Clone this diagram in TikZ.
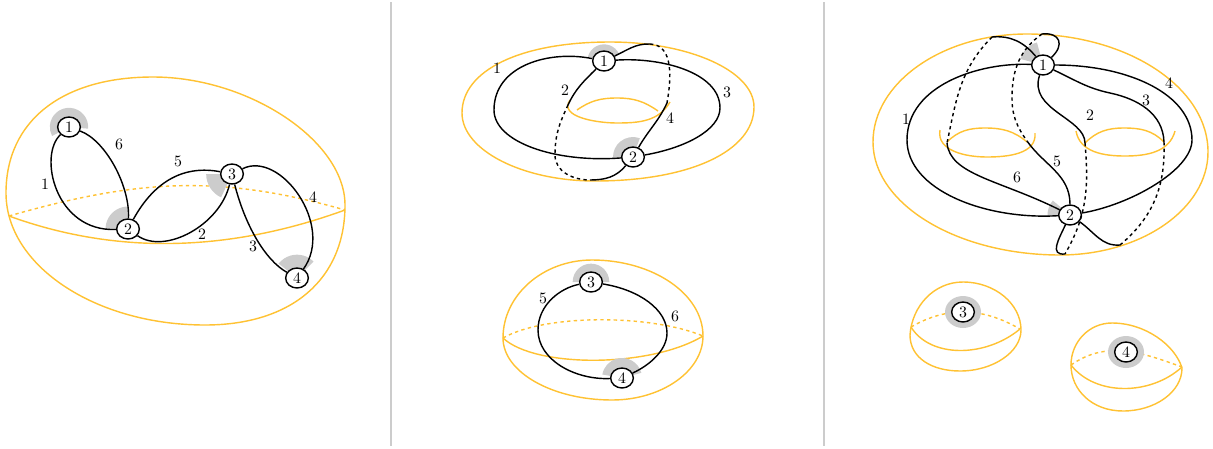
\documentclass[tikz,border=0pt]{standalone}
\usepackage{xcolor}
\usetikzlibrary{shapes.geometric}
\definecolor{surfcol}{HTML}{FFC233}
\definecolor{shadecol}{HTML}{CCCCCC}
\begin{document}
\begin{tikzpicture}[
  x=0.6pt,y=-0.6pt,
  every node/.style={font=\fontsize{9.5}{11}\selectfont},
  vert/.style={draw,line width=0.85pt,fill=white,ellipse,inner sep=0pt,minimum width=13.6pt,minimum height=12pt},
  lab/.style={inner sep=0pt},
  surf/.style={draw=surfcol,line width=0.85pt},
  surfdash/.style={surf,dash pattern=on 2pt off 2pt},
  edge/.style={draw,line width=0.85pt},
  edgedash/.style={edge,dash pattern=on 2pt off 2pt},
  wedge/.style={fill=shadecol},
  sep/.style={draw=shadecol,line width=0.9pt}
]
\useasboundingbox (0,0) rectangle (1213,448);
\coordinate (sepa) at (391,2);
\coordinate (sepb) at (391,446);
\coordinate (sepc) at (824,2);
\coordinate (sepd) at (824,446);
\draw[sep] (sepa) -- (sepb);
\draw[sep] (sepc) -- (sepd);

% surfaces
\draw[surf] (6,193) .. controls (6,121) and (62,77) .. (153,77) .. controls (249,77) and (345,141) .. (345,205)
  .. controls (345,279) and (292,325) .. (205,325) .. controls (96,325) and (6,266) .. cycle;
\coordinate (aL) at (9,216);
\coordinate (aR) at (345,210);
\draw[surf] (aL) to[out=-20,in=200,looseness=0.9] (aR);
\draw[surfdash] (aL) to[out=16,in=164] (aR);

\draw[surf] (462,113) .. controls (462,70) and (521,42) .. (610,42) .. controls (689,42) and (754,71) .. (754,107)
  .. controls (754,151) and (690,181) .. (595,181) .. controls (522,181) and (462,150) .. cycle;
\coordinate (bA) at (570,100);
\coordinate (bB) at (670,102);
\coordinate (bC) at (577,110);
\coordinate (bD) at (658,111);
\draw[surf] (bA) to[out=-125,in=180] (617,123) to[out=0,in=-120] (bB);
\draw[surf] (bC) to[out=35,in=180] (617,98) to[out=0,in=145] (bD);

\draw[surf] (503,338) .. controls (503,295) and (543,260) .. (592,260) .. controls (653,260) and (703,294) .. (703,336)
  .. controls (703,371) and (662,400) .. (612,400) .. controls (552,400) and (503,372) .. cycle;
\coordinate (cL) at (503,338);
\coordinate (cR) at (703,336);
\draw[surf] (cL) .. controls (535,368) and (650,368) .. (cR);
\draw[surfdash] (cL) .. controls (545,314) and (650,314) .. (cR);

\draw[surf] (873,142) .. controls (873,83) and (942,34) .. (1027,34) .. controls (1127,34) and (1208,87) .. (1208,152)
  .. controls (1208,209) and (1141,255) .. (1060,255) .. controls (957,255) and (873,204) .. cycle;
\coordinate (dA) at (940,130);
\coordinate (dB) at (1035,133);
\coordinate (dC) at (947,142);
\coordinate (dD) at (1027,142);
\coordinate (dE) at (1076,131);
\coordinate (dF) at (1175,131);
\coordinate (dG) at (1085,143);
\coordinate (dH) at (1164,142);
\draw[surf] (dA) to[out=-100,in=180] (987,157) to[out=0,in=-85] (dB);
\draw[surf] (dC) to[out=45,in=180] (985,128) to[out=0,in=140] (dD);
\draw[surf] (dE) to[out=-80,in=180] (1125,156) to[out=0,in=-105] (dF);
\draw[surf] (dG) to[out=45,in=180] (1124,128) to[out=0,in=135] (dH);

\draw[surf] (910,335) .. controls (912,306) and (934,282) .. (963,282) .. controls (995,282) and (1021,304) .. (1021,330)
  .. controls (1021,352) and (993,371) .. (960,371) .. controls (932,371) and (910,358) .. cycle;
\coordinate (eL) at (911,327);
\coordinate (eR) at (1020,329);
\draw[surf] (eL) .. controls (930,358) and (985,358) .. (eR);
\draw[surfdash] (eL) to[out=30,in=150] (eR);

\draw[surf] (1071,365) .. controls (1071,342) and (1089,323) .. (1112,323) .. controls (1145,323) and (1175,345) .. (1182,368)
  .. controls (1182,392) and (1155,411) .. (1123,411) .. controls (1092,411) and (1071,390) .. cycle;
\coordinate (fL) at (1071,365);
\coordinate (fR) at (1182,367);
\draw[surf] (fL) .. controls (1095,396) and (1150,396) .. (fR);
\draw[surfdash] (fL) to[out=35,in=160] (fR);

% shaded corners
\foreach \cx/\cy/\a/\b/\r in {69/127/-5/208/11.5,128/229/90/182/13.5,232/174/180/245/15.5,297/278/45/142/14,
  604/61/25/165/10,633/157/70/182/12,591/282/0/180/11,622/378/15/170/12,
  1043/65/105/165/14,1070/215/140/182/13.5}{
  \fill[wedge] (\cx,\cy) -- ++(\a:\r pt) arc (\a:\b:\r pt) -- cycle;
}
\fill[wedge] (963,312) ellipse (18 and 16);
\fill[wedge] (1126,352) ellipse (18 and 16);

% vertices
\node[vert] (la) at (69,127) {1};
\node[vert] (lb) at (128,229) {2};
\node[vert] (lc) at (232,174) {3};
\node[vert] (ld) at (297,278) {4};
\node[vert] (ma) at (604,61) {1};
\node[vert] (mb) at (633,157) {2};
\node[vert] (mc) at (591,282) {3};
\node[vert] (md) at (622,378) {4};
\node[vert] (ra) at (1043,65) {1};
\node[vert] (rb) at (1070,215) {2};
\node[vert] (rc) at (963,312) {3};
\node[vert] (rd) at (1126,352) {4};

% left picture
\draw[edge] (la) .. controls (38,155) and (55,232) .. (lb);
\draw[edge] (la) .. controls (105,140) and (130,185) .. (lb);
\draw[edge] (lb) .. controls (155,180) and (185,165) .. (lc);
\draw[edge] (lb) .. controls (165,255) and (220,225) .. (lc);
\draw[edge] (lc) .. controls (245,225) and (265,260) .. (ld);
\draw[edge] (lc) .. controls (280,150) and (335,225) .. (ld);
\node[lab] (ta) at (45,184) {1};
\node[lab] (tb) at (119,144) {6};
\node[lab] (tc) at (178,161) {5};
\node[lab] (td) at (202,234) {2};
\node[lab] (te) at (313,197) {4};
\node[lab] (tf) at (253,246) {3};

% middle picture
\coordinate (m1) at (494,110);
\coordinate (m2) at (720,108);
\coordinate (m3) at (568,105);
\coordinate (m4) at (590,180);
\coordinate (m5) at (650,44);
\coordinate (m6) at (667,103);
\coordinate (m7) at (555,155);
\coordinate (m8) at (538,330);
\coordinate (m9) at (667,333);
\draw[edge] (ma) .. controls (550,50) and (494,65) .. (m1) .. controls (494,142) and (555,163) .. (mb);
\draw[edge] (ma) .. controls (660,57) and (720,72) .. (m2) .. controls (720,130) and (685,148) .. (mb);
\draw[edge] (ma) to[out=225,in=65] (m3);
\draw[edgedash] (m3) to[out=245,in=90] (m7) to[out=-90,in=180] (m4);
\draw[edge] (m4) to[out=0,in=230] (mb);
\draw[edge] (ma) to[out=25,in=178] (m5);
\draw[edgedash] (m5) to[out=-2,in=80] (m6);
\draw[edge] (m6) to[out=-115,in=60] (mb);
\node[lab] (ua) at (497,68) {1};
\node[lab] (ub) at (565,90) {2};
\node[lab] (uc) at (727,92) {3};
\node[lab] (ud) at (670,118) {4};

\draw[edge] (mc) .. controls (560,288) and (538,305) .. (m8) .. controls (538,360) and (575,380) .. (md);
\draw[edge] (mc) .. controls (640,290) and (667,310) .. (m9) .. controls (667,350) and (650,365) .. (md);
\node[lab] (uf) at (543,298) {5};
\node[lab] (ug) at (675,316) {6};

% right picture
\coordinate (r1) at (907,140);
\coordinate (r2) at (1192,140);
\coordinate (r3) at (1164,142);
\coordinate (r4) at (1120,245);
\coordinate (r5) at (1085,143);
\coordinate (r6) at (1065,254);
\coordinate (r7) at (992,37);
\coordinate (r8) at (947,143);
\coordinate (r9) at (1042,34);
\coordinate (r10) at (1027,141);
\draw[edge] (ra) .. controls (980,62) and (907,85) .. (r1) .. controls (907,190) and (985,220) .. (rb);
\draw[edge] (ra) .. controls (1130,65) and (1192,95) .. (r2) .. controls (1192,170) and (1130,205) .. (rb);
\draw[edge] (ra) to[out=-25,in=168] (1110,93) to[out=-12,in=92] (r3);
\draw[edgedash] (r3) to[out=-88,in=40] (r4);
\draw[edge] (r4) to[out=185,in=-35] (rb);
\draw[edge] (ra) .. controls (1028,110) and (1085,118) .. (r5);
\draw[edgedash] (r5) to[out=-85,in=60] (r6);
\draw[edge] (r6) to[out=185,in=245,looseness=1.4] (rb);
\draw[edge] (ra) to[out=130,in=5] (r7);
\draw[edgedash] (r7) to[out=225,in=78] (r8);
\draw[edge] (r8) .. controls (950,175) and (1000,180) .. (rb);
\draw[edge] (ra) .. controls (1065,45) and (1060,32) .. (r9);
\draw[edgedash] (r9) to[out=215,in=90] (1012,98) to[out=-90,in=125] (r10);
\draw[edge] (r10) to[out=-55,in=90] (rb);
\node[lab] (va) at (906,119) {1};
\node[lab] (vb) at (1169,83) {4};
\node[lab] (vc) at (1146,100) {3};
\node[lab] (vd) at (1090,115) {2};
\node[lab] (ve) at (1057,161) {5};
\node[lab] (vf) at (1017,177) {6};
\end{tikzpicture}
\end{document}
